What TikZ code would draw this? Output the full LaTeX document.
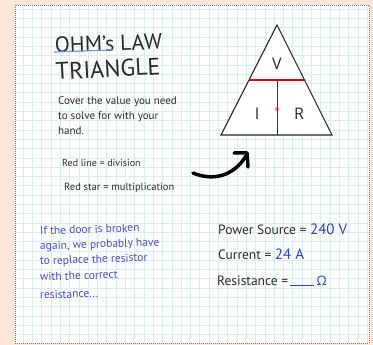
\documentclass[tikz,border=0pt]{standalone}
\usepackage{fontspec}
\setmainfont{PT Sans}
\newfontfamily\letterfont{Open Sans}
\definecolor{peach}{HTML}{FCE6D8}
\definecolor{gridcol}{HTML}{D6F0EB}
\definecolor{inkblue}{HTML}{4B4BD6}
\definecolor{valblue}{HTML}{2F3BE6}
\definecolor{ulblue}{HTML}{7A8FD8}
\definecolor{ink}{HTML}{2B2B2B}
\begin{document}
\begin{tikzpicture}[x=1pt,y=-1pt,
  txt/.style={anchor=base west, inner sep=0pt, text=ink},
  note/.style={txt, font=\fontsize{11}{13}\selectfont},
  bluenote/.style={txt, text=inkblue, font=\fontsize{11.5}{13}\selectfont, rotate=2},
  big/.style={txt, font=\fontsize{13.5}{16}\selectfont},
  letter/.style={inner sep=0pt, font=\letterfont\fontsize{16}{18}\selectfont, text=ink}]
\useasboundingbox (0,0) rectangle (373,345);
\fill[peach] (0,0) rectangle (373,345);
% paper
\fill[white] (15,5) rectangle (369,343);
\begin{scope}
\clip (15,5) rectangle (369,343);
\foreach \i in {0,...,38} {
  \draw[gridcol, line width=0.5pt] (23+9.3*\i,5) -- (23+9.3*\i,343);
}
\foreach \j in {0,...,36} {
  \draw[gridcol, line width=0.5pt] (15,9+9.3*\j) -- (369,9+9.3*\j);
}
\end{scope}
\draw[gray, line width=0.7pt, dash pattern=on 1pt off 1pt] (15,5) rectangle (369,343);
% title
\node[txt, font=\fontsize{22}{24}\selectfont, rotate=2] (t1) at (55,53) {OHM's LAW};
\node[txt, font=\fontsize{24}{26}\selectfont, rotate=3] (t2) at (56,80) {TRIANGLE};
\draw[ulblue, line width=1.2pt] (54,52) -- (113,50);
% instructions
\node[note] (c1) at (58,105) {Cover the value you need};
\node[note] (c2) at (58,120) {to solve for with your};
\node[note] (c3) at (58,135) {hand.};
\node[note, font=\fontsize{10}{12}\selectfont] (r1) at (62,167) {Red line = division};
\node[note, font=\fontsize{10.5}{12}\selectfont] (r2) at (64,191) {Red star = multiplication};
% triangle
\coordinate (apex) at (277,25);
\coordinate (bl) at (221,135);
\coordinate (br) at (332,135);
\coordinate (ml) at (249,80);
\coordinate (mr) at (305,80);
\coordinate (mm) at (277,80);
\coordinate (mb) at (277,135);
\draw[fill=white, draw=black!85, line width=1.1pt, line join=miter] (apex) -- (bl) -- (br) -- cycle;
\draw[line width=1pt, draw=black!80] (mm) -- (mb);
\draw[red!90!black, line width=2pt] (ml) -- (mr);
\node[letter] (V) at (277,64) {V};
\node[letter] (I) at (257,114) {I};
\node[letter] (R) at (299,114) {R};
\node[inner sep=0pt, text=red, font=\bfseries\fontsize{12}{12}\selectfont] (star) at (277,109.5) {$\ast$};
% arrow
\coordinate (a0) at (193,173);
\coordinate (a1) at (246,156);
\coordinate (h1) at (234,153);
\coordinate (h2) at (247,153);
\coordinate (h3) at (248,167);
\draw[black, line width=3.5pt, line cap=round] (a0) .. controls (212,181) and (233,177) .. (a1);
\draw[black, line width=3.5pt, line cap=round, line join=round] (h1) -- (h2) -- (h3);
% blue note
\node[bluenote] (b1) at (40,235) {If the door is broken};
\node[bluenote] (b2) at (40,250) {again, we probably have};
\node[bluenote] (b3) at (40,265) {to replace the resistor};
\node[bluenote] (b4) at (40,281) {with the correct};
\node[bluenote] (b5) at (40,299) {resistance...};
% values
\node[big] (p) at (218,234) {Power Source = \textcolor{valblue}{\fontsize{15}{16}\selectfont 240 V}};
\node[big] (cur) at (218,259) {Current = \textcolor{valblue}{\fontsize{15}{16}\selectfont 24 A}};
\node[big] (res) at (217,285) {Resistance =\,\textcolor{valblue}{\rule[-1pt]{24pt}{0.8pt}\,{\letterfont\fontsize{13}{16}\selectfont Ω}}};
\end{tikzpicture}
\end{document}
